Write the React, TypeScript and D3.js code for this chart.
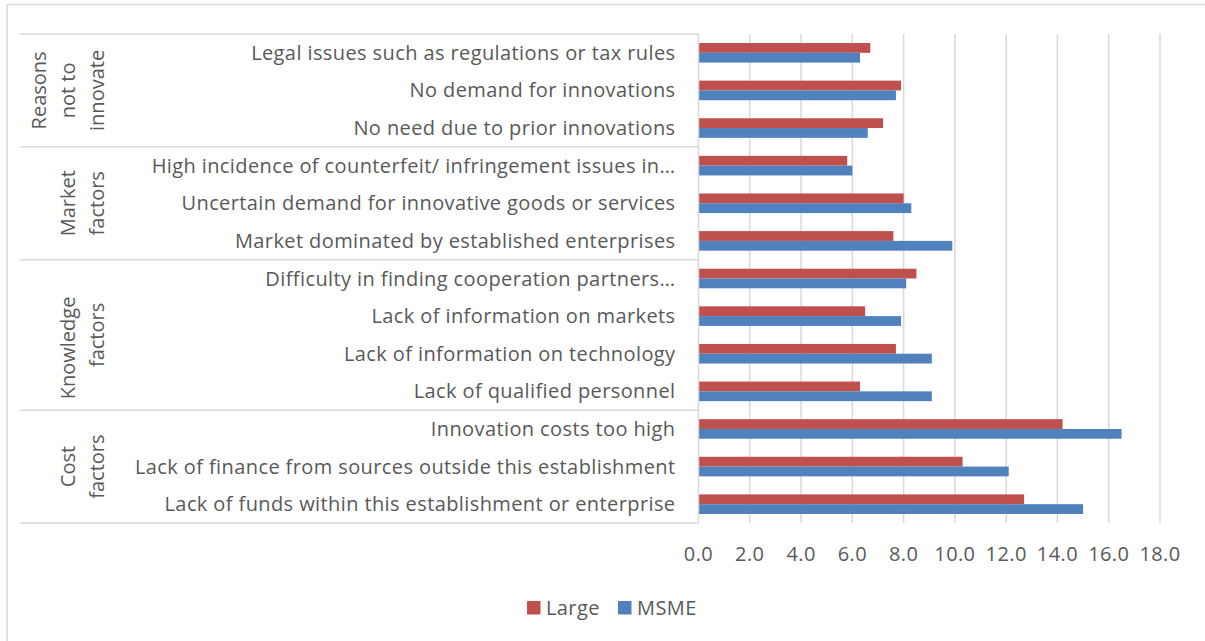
import React, { useEffect, useRef } from 'react';
import * as d3 from 'd3';

// categories, top to bottom as drawn
const categories = [
    "Legal issues such as regulations or tax rules",
    "No demand for innovations",
    "No need due to prior innovations",
    "High incidence of counterfeit/ infringement issues in…",
    "Uncertain demand for innovative goods or services",
    "Market dominated by established enterprises",
    "Difficulty in finding cooperation partners…",
    "Lack of information on markets",
    "Lack of information on technology",
    "Lack of qualified personnel",
    "Innovation costs too high",
    "Lack of finance from sources outside this establishment",
    "Lack of funds within this establishment or enterprise",
];

const groupLabels = [
    ["Reasons", "not to", "innovate"],
    ["Market", "factors"],
    ["Knowledge\u00a0\u00a0\u00a0\u00a0\u00a0", "factors"],
    ["Cost", "factors"],
];
const groupSizes = [3, 3, 4, 3];

const seriesNames = ["Large", "MSME"];
const largeValues = [6.7, 7.9, 7.2, 5.8, 8.0, 7.6, 8.5, 6.5, 7.7, 6.3, 14.2, 10.3, 12.7];
const msmeValues = [6.3, 7.7, 6.6, 6.0, 8.3, 9.9, 8.1, 7.9, 9.1, 9.1, 16.5, 12.1, 15.0];

const xTicks = [0, 2, 4, 6, 8, 10, 12, 14, 16, 18];

const colors: Record<string, string> = { Large: "#C0504D", MSME: "#4F81BD" };

export default function App() {
    const svgRef = useRef<SVGSVGElement>(null);
    const width = 1205;
    const height = 641;

    useEffect(() => {
        if (!svgRef.current) return;
        const svg = d3.select(svgRef.current);
        svg.selectAll("*").remove();

        const font = "'Open Sans', 'Noto Sans', sans-serif";
        const fontSize = 20;
        const spacing = 0.4;
        const textColor = "#595959";
        const gridColor = "#D9D9D9";

        const plot = { left: 698.5, right: 1160, top: 34, bottom: 523 };
        const groupLeft = 20;

        // outer chart frame (only top and left visible)
        svg.append("path")
            .attr("d", `M7,${height} V4.5 H${width}`)
            .attr("fill", "none")
            .attr("stroke", gridColor)
            .attr("stroke-width", 1.5);

        const x = d3.scaleLinear().domain([0, 18]).range([plot.left, plot.right]);
        const y = d3.scaleBand<string>().domain(categories).range([plot.top, plot.bottom]).padding(0);
        const ySub = d3.scaleBand<string>()
            .domain(seriesNames)
            .range([0, y.bandwidth()])
            .paddingInner(0)
            .paddingOuter(0.92);

        // vertical gridlines
        svg.append("g")
            .selectAll("line")
            .data(xTicks.slice(1))
            .join("line")
            .attr("x1", d => x(d))
            .attr("x2", d => x(d))
            .attr("y1", plot.top)
            .attr("y2", plot.bottom)
            .attr("stroke", gridColor)
            .attr("stroke-width", 1.5);

        // bars
        const rows = categories.map((c, i) => ({ c, Large: largeValues[i], MSME: msmeValues[i] }));
        const rowG = svg.append("g")
            .selectAll("g")
            .data(rows)
            .join("g")
            .attr("transform", d => `translate(0,${y(d.c)})`);

        rowG.selectAll("rect")
            .data(d => seriesNames.map(s => ({ s, v: (d as any)[s] as number })))
            .join("rect")
            .attr("x", x(0))
            .attr("y", d => ySub(d.s)!)
            .attr("width", d => x(d.v) - x(0))
            .attr("height", ySub.bandwidth())
            .attr("fill", d => colors[d.s]);

        // axis line
        svg.append("line")
            .attr("x1", plot.left)
            .attr("x2", plot.left)
            .attr("y1", plot.top)
            .attr("y2", plot.bottom)
            .attr("stroke", gridColor)
            .attr("stroke-width", 1.5);

        // category labels
        svg.append("g")
            .selectAll("text")
            .data(categories)
            .join("text")
            .attr("x", plot.left - 23)
            .attr("y", d => y(d)! + y.bandwidth() / 2)
            .attr("dy", "0.35em")
            .attr("text-anchor", "end")
            .attr("font-family", font)
            .attr("font-size", fontSize)
            .attr("letter-spacing", spacing)
            .attr("fill", textColor)
            .text(d => d);

        // group separators and group labels
        let start = 0;
        const bounds: number[] = [0];
        groupSizes.forEach(n => { start += n; bounds.push(start); });
        const boundY = (i: number) => i >= categories.length ? plot.bottom : y(categories[i])!;

        svg.append("g")
            .selectAll("line")
            .data(bounds)
            .join("line")
            .attr("x1", groupLeft)
            .attr("x2", plot.left)
            .attr("y1", d => boundY(d))
            .attr("y2", d => boundY(d))
            .attr("stroke", gridColor)
            .attr("stroke-width", 1.5);

        const lineGap = 29;
        const lastBaseline = 104;
        groupLabels.forEach((lines, gi) => {
            const cy = (boundY(bounds[gi]) + boundY(bounds[gi + 1])) / 2;
            lines.forEach((ln, li) => {
                const bx = lastBaseline - (lines.length - 1 - li) * lineGap;
                svg.append("text")
                    .attr("transform", `translate(${bx},${cy}) rotate(-90)`)
                    .attr("text-anchor", "middle")
                    .attr("font-family", font)
                    .attr("font-size", fontSize)
                    .attr("fill", textColor)
                    .style("white-space", "pre")
                    .text(ln);
            });
        });

        // x tick labels
        svg.append("g")
            .selectAll("text")
            .data(xTicks)
            .join("text")
            .attr("x", d => x(d))
            .attr("y", 561)
            .attr("text-anchor", "middle")
            .attr("font-family", font)
            .attr("font-size", fontSize)
            .attr("letter-spacing", spacing)
            .attr("fill", textColor)
            .text(d => d3.format(".1f")(d));

        // legend
        const legendX = d3.scaleOrdinal<string, number>().domain(seriesNames).range([527, 618]);
        const lg = svg.append("g")
            .selectAll("g")
            .data(seriesNames)
            .join("g")
            .attr("transform", d => `translate(${legendX(d)},601)`);
        lg.append("rect")
            .attr("width", 13.5)
            .attr("height", 13.5)
            .attr("fill", d => colors[d]);
        lg.append("text")
            .attr("x", 19)
            .attr("y", 14)
            .attr("font-family", font)
            .attr("font-size", fontSize)
            .attr("letter-spacing", spacing)
            .attr("fill", textColor)
            .text(d => d);
    }, []);

    return (
        <svg
            ref={svgRef}
            width={width}
            height={height}
            style={{ position: 'absolute', left: 0, top: 0, background: '#ffffff' }}
        />
    );
}
